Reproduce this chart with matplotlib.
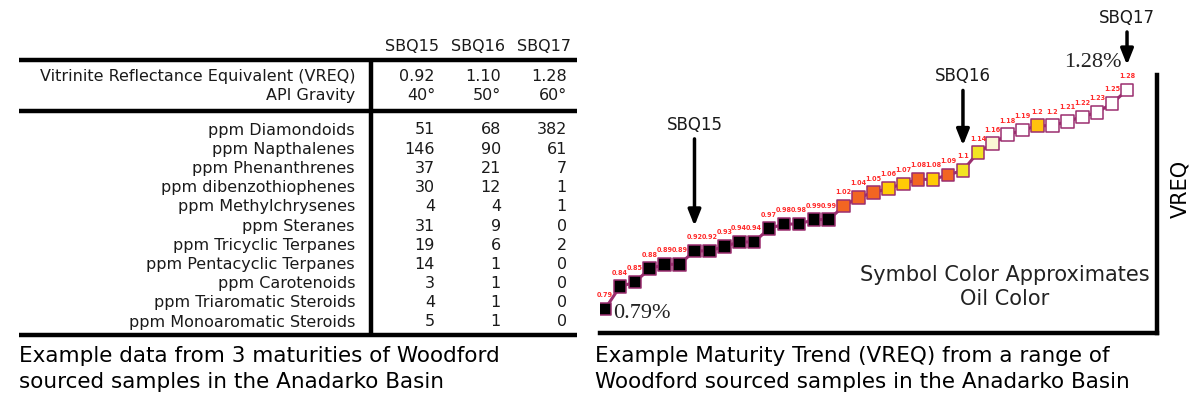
import matplotlib
matplotlib.use("Agg")
import matplotlib.pyplot as plt

# ---- table data (left panel) ----
sample_names = ["SBQ15", "SBQ16", "SBQ17"]
vreq_row = ["0.92", "1.10", "1.28"]
api_row = ["40°", "50°", "60°"]
compound_names = [
    "ppm Diamondoids", "ppm Napthalenes", "ppm Phenanthrenes", "ppm dibenzothiophenes",
    "ppm Methylchrysenes", "ppm Steranes", "ppm Tricyclic Terpanes", "ppm Pentacyclic Terpanes",
    "ppm Carotenoids", "ppm Triaromatic Steroids", "ppm Monoaromatic Steroids",
]
sbq15_ppm = [51, 146, 37, 30, 4, 31, 19, 14, 3, 4, 5]
sbq16_ppm = [68, 90, 21, 12, 4, 9, 6, 1, 1, 1, 1]
sbq17_ppm = [382, 61, 7, 1, 1, 0, 2, 0, 0, 0, 0]

# ---- maturity trend data (right panel) ----
vreq = [0.79, 0.84, 0.85, 0.88, 0.89, 0.89, 0.92, 0.92, 0.93, 0.94, 0.94, 0.97,
        0.98, 0.98, 0.99, 0.99, 1.02, 1.04, 1.05, 1.06, 1.07, 1.08, 1.08, 1.09,
        1.10, 1.14, 1.16, 1.18, 1.19, 1.20, 1.20, 1.21, 1.22, 1.23, 1.25, 1.28]
oil_colors = (["black"] * 16 +
              ["#f26522", "#f26522", "#f26522", "#ffcb05", "#ffcb05", "#f26522",
               "#ffcb05", "#f26522", "#f2e423", "#f2e423", "#fbf6d5", "white",
               "white", "#ffc20e", "white", "white", "white", "white", "white", "white"])
sbq_index = [6, 24, 35]

line_col = "#9b2d6f"
font = "DejaVu Sans"
txt_col = "#1a1a1a"
tsize = 11.5

fig = plt.figure(figsize=(12.04, 4.12), dpi=100)

# overlay in pixel coordinates for the table and captions
ov = fig.add_axes([0, 0, 1, 1])
ov.set_xlim(0, 1204)
ov.set_ylim(412, 0)
ov.axis("off")

col_x = [435, 501, 567]
for x, name in zip(col_x, sample_names):
    ov.text(x + 4, 46, name, ha="right", va="center", fontsize=tsize, family=font, color=txt_col)

ov.text(355, 76, "Vitrinite Reflectance Equivalent (VREQ)", ha="right", va="center",
        fontsize=tsize, family=font, color=txt_col)
ov.text(355, 95, "API Gravity", ha="right", va="center", fontsize=tsize, family=font, color=txt_col)
for x, a, b in zip(col_x, vreq_row, api_row):
    ov.text(x, 76, a, ha="right", va="center", fontsize=tsize, family=font, color=txt_col)
    ov.text(x, 95, b, ha="right", va="center", fontsize=tsize, family=font, color=txt_col)

for i, name in enumerate(compound_names):
    y = 130 + 19.2 * i
    ov.text(355, y, name, ha="right", va="center", fontsize=tsize, family=font, color=txt_col)
    for x, col in zip(col_x, [sbq15_ppm, sbq16_ppm, sbq17_ppm]):
        ov.text(x, y, str(col[i]), ha="right", va="center", fontsize=tsize, family=font, color=txt_col)

for y in [60, 111, 335]:
    ov.plot([19, 577], [y, y], color="black", lw=3.2, solid_capstyle="butt")
ov.plot([371, 371], [60, 335], color="black", lw=3.2, solid_capstyle="butt")

csize = 15.5
ov.text(19, 356, "Example data from 3 maturities of Woodford", ha="left", va="center",
        fontsize=csize, family=font)
ov.text(19, 382, "sourced samples in the Anadarko Basin", ha="left", va="center",
        fontsize=csize, family=font)
ov.text(595, 356, "Example Maturity Trend (VREQ) from a range of", ha="left", va="center",
        fontsize=csize, family=font)
ov.text(595, 382, "Woodford sourced samples in the Anadarko Basin", ha="left", va="center",
        fontsize=csize, family=font)

# ---- trend chart ----
ax = fig.add_axes([600 / 1204, 79 / 412, 557 / 1204, 258 / 412])
ax.patch.set_alpha(0)
x = list(range(len(vreq)))
ax.plot(x, vreq, color=line_col, lw=2.2, zorder=2)
ax.scatter(x, vreq, marker="s", s=82, c=oil_colors, edgecolors=line_col, linewidths=1.1, zorder=3)
for xi, v in zip(x, vreq):
    ax.annotate(f"{v:g}", (xi, v), xytext=(0, 11), textcoords="offset pixels",
                ha="center", va="bottom", fontsize=4.7, fontweight="bold", color="#ff2a2a")

ax.set_xlim(-0.335, 37.01)
ax.set_ylim(0.7363, 1.3135)
ax.set_xticks([])
ax.set_yticks([])
for side in ["left", "top"]:
    ax.spines[side].set_visible(False)
for side in ["right", "bottom"]:
    ax.spines[side].set_linewidth(3.2)
    ax.spines[side].set_capstyle("projecting")

shaft_len = [112, 80, 58]
for name, idx, length in zip(sample_names, sbq_index, shaft_len):
    ax.annotate("", xy=(idx, vreq[idx]), xytext=(0, length), textcoords="offset pixels",
                arrowprops=dict(arrowstyle="-|>,head_length=0.95,head_width=0.38",
                                color="black", lw=2.5, mutation_scale=10,
                                shrinkA=0, shrinkB=18))
    ax.annotate(name, (idx, vreq[idx]), xytext=(0, length + 14), textcoords="offset pixels",
                ha="center", va="center", fontsize=12, family=font, color=txt_col)

ax.annotate(f"{vreq[0]:.2f}%", (0, vreq[0]), xytext=(8, -5), textcoords="offset pixels",
            ha="left", va="center", fontsize=16, family="Liberation Serif", color="#222222")
ax.annotate(f"{vreq[-1]:.2f}%", (35, vreq[-1]), xytext=(-5, 27), textcoords="offset pixels",
            ha="right", va="center", fontsize=16, family="Liberation Serif", color="#222222")

ax.text(0.727, 0.178, "Symbol Color Approximates\nOil Color", transform=ax.transAxes,
        ha="center", va="center", fontsize=15, family=font, linespacing=1.2, color="#222222")
ax.text(1.041, 0.56, "VREQ", transform=ax.transAxes, rotation=90,
        ha="center", va="center", fontsize=15, family=font)

fig.savefig("out.png", dpi=100)
